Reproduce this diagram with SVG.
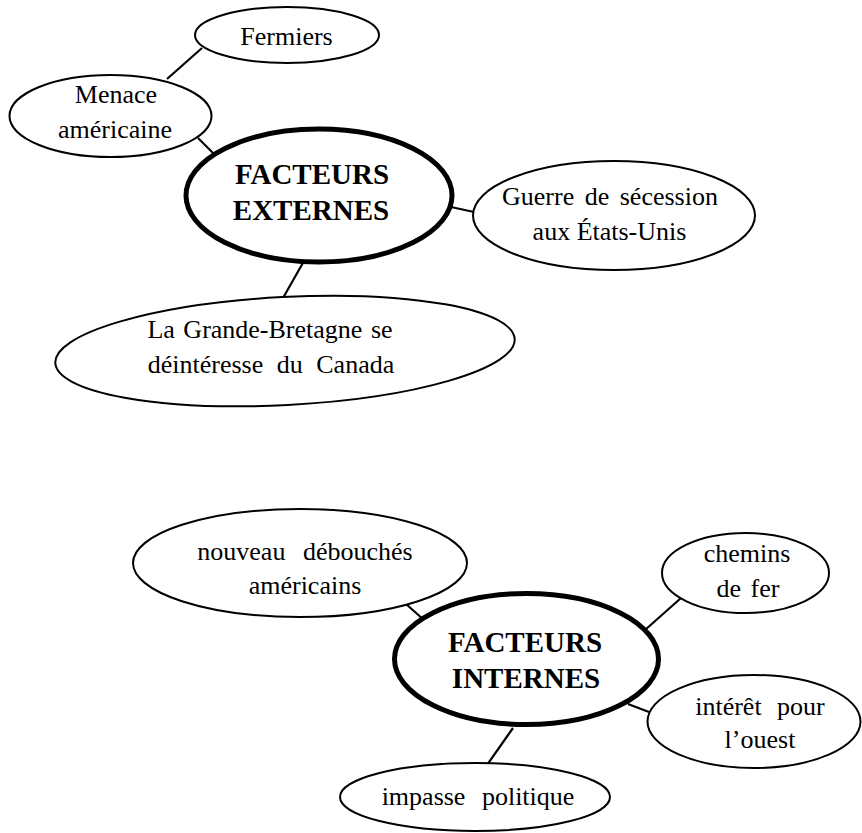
<svg xmlns="http://www.w3.org/2000/svg" width="862" height="833" viewBox="0 0 862 833">
<style>
.n{fill:#fff;stroke:#000;stroke-width:2}
.m{fill:#fff;stroke:#000;stroke-width:5}
.t{font-family:"Liberation Serif",serif;font-size:26px;fill:#000;text-anchor:middle}
.b{font-family:"Liberation Serif",serif;font-size:29px;font-weight:bold;fill:#000;text-anchor:middle}
.c line{stroke:#000;stroke-width:2.2}
</style>
<rect width="862" height="833" fill="#fff"/>
<g class="c" id="connectors">
<line x1="202" y1="48" x2="167" y2="79"/>
<line x1="198" y1="138" x2="215" y2="155"/>
<line x1="451" y1="207" x2="474" y2="212"/>
<line x1="304" y1="261" x2="283" y2="298"/>
<line x1="406" y1="604" x2="424" y2="620"/>
<line x1="645" y1="630" x2="681" y2="598"/>
<line x1="628" y1="704" x2="649" y2="712"/>
<line x1="513" y1="728" x2="487" y2="765"/>
</g>
<g id="fermiers"><ellipse class="n" cx="287" cy="35" rx="92" ry="28"/><text class="t" x="286.5" y="45">Fermiers</text></g>
<g id="menace"><ellipse class="n" cx="110.5" cy="116" rx="101" ry="41"/><text class="t" x="116" y="103">Menace</text><text class="t" x="115" y="138">américaine</text></g>
<g id="externes"><ellipse class="m" cx="319" cy="195.5" rx="133" ry="66.5"/><text class="b" x="312" y="184">FACTEURS</text><text class="b" x="311" y="220">EXTERNES</text></g>
<g id="guerre"><ellipse class="n" cx="614" cy="215.5" rx="141" ry="54.5"/><text class="t" x="610" y="205" word-spacing="4">Guerre de sécession</text><text class="t" x="609.5" y="240">aux États-Unis</text></g>
<g id="bretagne"><ellipse class="n" cx="285" cy="351" rx="230" ry="54" transform="rotate(-3 285 351)"/><text class="t" x="270" y="338" word-spacing="2">La Grande-Bretagne se</text><text class="t" x="271" y="373" word-spacing="7">déintéresse du Canada</text></g>
<g id="nouveau"><ellipse class="n" cx="300" cy="563" rx="167" ry="54"/><text class="t" x="305" y="560" word-spacing="11">nouveau débouchés</text><text class="t" x="305" y="594">américains</text></g>
<g id="internes"><ellipse class="m" cx="526.5" cy="659" rx="132" ry="65.5"/><text class="b" x="525" y="652">FACTEURS</text><text class="b" x="526" y="688">INTERNES</text></g>
<g id="chemins"><ellipse class="n" cx="745.5" cy="573" rx="83.5" ry="40"/><text class="t" x="747" y="562">chemins</text><text class="t" x="748" y="597" word-spacing="3">de fer</text></g>
<g id="interet"><ellipse class="n" cx="754" cy="721.5" rx="106.5" ry="46.5"/><text class="t" x="760" y="715" word-spacing="9">intérêt pour</text><text class="t" x="760" y="748">l’ouest</text></g>
<g id="impasse"><ellipse class="n" cx="475" cy="797" rx="135" ry="34"/><text class="t" x="478" y="805" word-spacing="10">impasse politique</text></g>
</svg>
